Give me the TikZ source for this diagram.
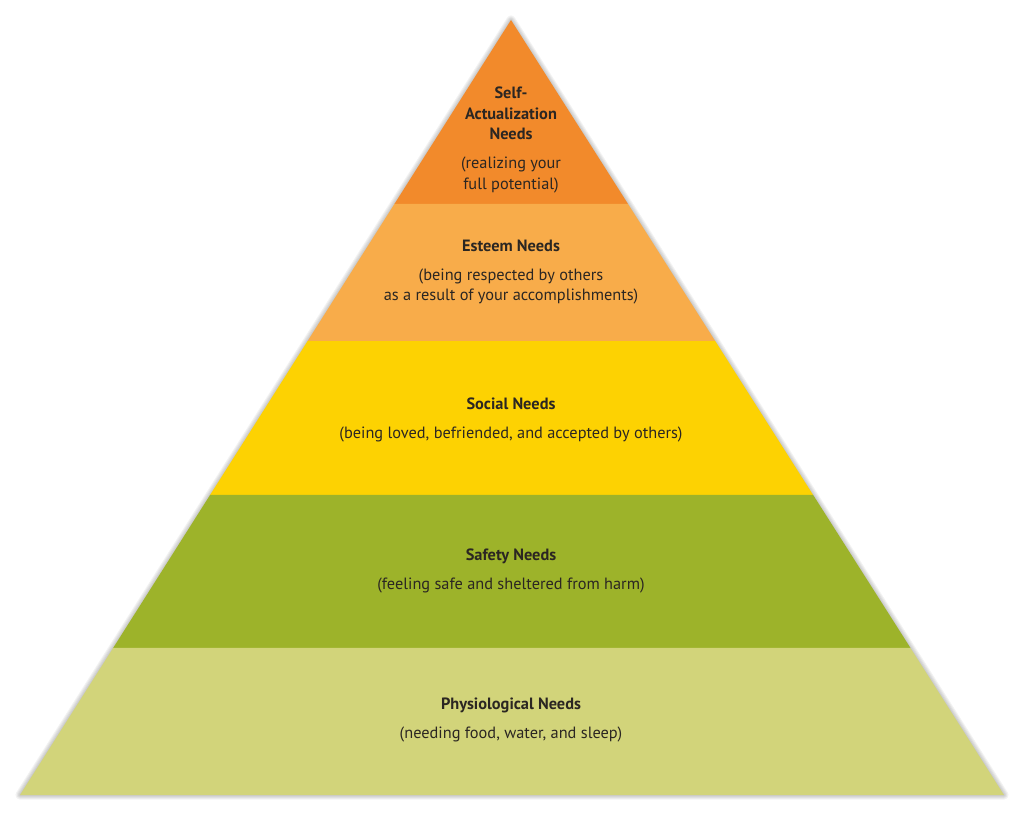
\documentclass[tikz,border=0pt]{standalone}
\usepackage{fontspec}
\setmainfont{PT Sans}
\usetikzlibrary{calc}
\definecolor{selfcol}{HTML}{F28A2B}
\definecolor{esteemcol}{HTML}{F8AC4A}
\definecolor{socialcol}{HTML}{FDD202}
\definecolor{safetycol}{HTML}{9DB32A}
\definecolor{physiocol}{HTML}{D2D47A}
\definecolor{inkcol}{HTML}{2B2622}
\tikzset{
  needs/.style={
    align = center,
    text = inkcol,
    inner sep = 0,
    font = \fontsize{9.3}{11.6}\selectfont
  },
  halo/.style={
    draw = black!70,
    line join = round,
    opacity = 0.07
  }
}

\begin{document}
\begin{tikzpicture}[x=0.02cm,y=-0.02cm]
  \useasboundingbox (0,0) rectangle (1024,813);
  \coordinate (apex) at (511,20);
  \coordinate (bl) at (20,795);
  \coordinate (br) at (1004,795);
  % soft shadow
  \foreach \w in {1,3,5,7,9}
    \draw[halo,line width=\w*0.02cm,shift={(1,3)}] (apex) -- (br) -- (bl) -- cycle;
  % layer borders
  \foreach \t/\n in {0.2374/a,0.4142/b,0.6129/c,0.8103/d} {
    \coordinate (l\n) at ($(apex)!\t!(bl)$);
    \coordinate (r\n) at ($(apex)!\t!(br)$);
  }
  \fill[selfcol] (apex) -- (ra) -- (la) -- cycle;
  \fill[esteemcol] (la) -- (ra) -- (rb) -- (lb) -- cycle;
  \fill[socialcol] (lb) -- (rb) -- (rc) -- (lc) -- cycle;
  \fill[safetycol] (lc) -- (rc) -- (rd) -- (ld) -- cycle;
  \fill[physiocol] (ld) -- (rd) -- (br) -- (bl) -- cycle;
  % labels
  \node[needs] (selfact) at (511,140) {\textbf{Self-}\\\textbf{Actualization}\\\textbf{Needs}\\[5pt](realizing your\\full potential)};
  \node[needs] (esteem) at (511,272) {\textbf{Esteem Needs}\\[5pt](being respected by others\\as a result of your accomplishments)};
  \node[needs] (social) at (511,420) {\textbf{Social Needs}\\[5pt](being loved, befriended, and accepted by others)};
  \node[needs] (safety) at (511,571) {\textbf{Safety Needs}\\[5pt](feeling safe and sheltered from harm)};
  \node[needs] (physio) at (511,720) {\textbf{Physiological Needs}\\[5pt](needing food, water, and sleep)};
\end{tikzpicture}
\end{document}
